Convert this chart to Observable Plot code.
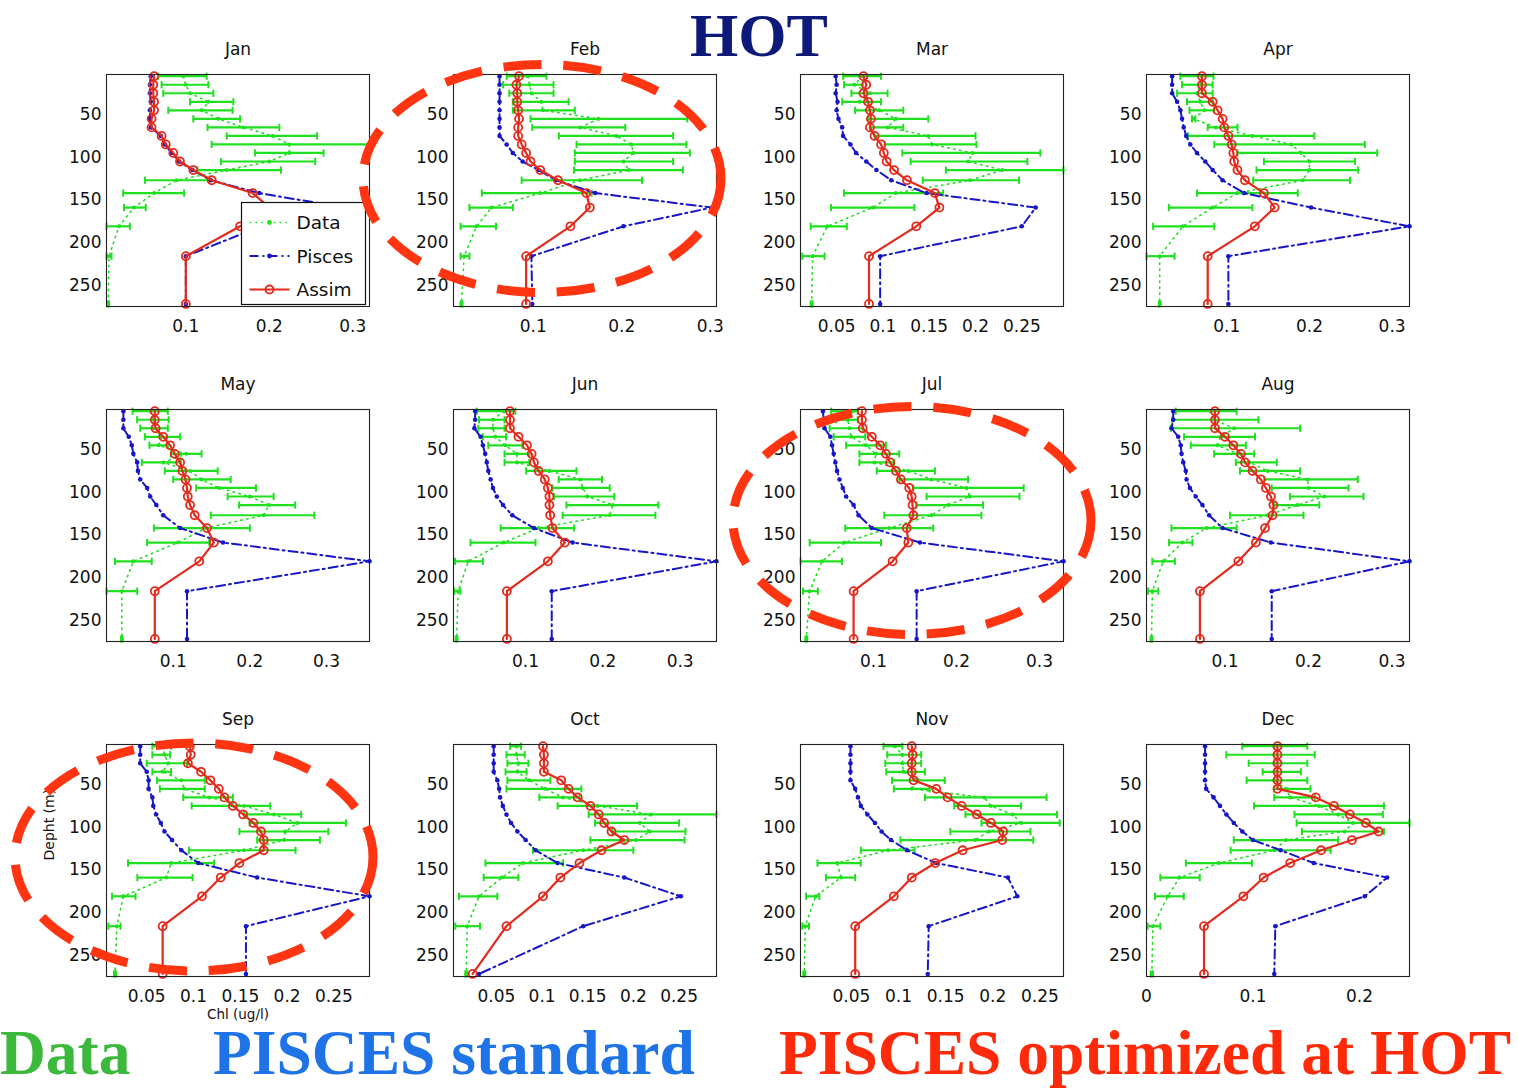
<!DOCTYPE html>
<html>
<head>
<meta charset="utf-8">
<script src="https://cdn.jsdelivr.net/npm/d3@7"></script>
<script src="https://cdn.jsdelivr.net/npm/@observablehq/plot@0.6"></script>
<style>
  html, body { margin: 0; padding: 0; background: #fff; }
  #root { position: relative; width: 1518px; height: 1088px; overflow: hidden; background: #fff; }
  .panel { position: absolute; }
  #overlay { position: absolute; left: 0; top: 0; pointer-events: none; }
</style>
</head>
<body>
<div id="root"></div>
<script>
// ---------------- data ----------------
const months = ["Jan","Feb","Mar","Apr","May","Jun","Jul","Aug","Sep","Oct","Nov","Dec"];
const depths = [5,15,25,35,45,55,65,75,85,95,105,115,127,142,159,181,216,272];
const depthTicks = [50,100,150,200,250];
const xDomains = [
  [0.005,0.32],[0.010,0.307],[0.011,0.295],[0.003,0.321],
  [0.013,0.356],[0.007,0.347],[0.012,0.329],[0.006,0.321],
  [0.007,0.288],[0.003,0.291],[-0.004,0.275],[0,0.247]
];
const xTicks = [
  [0.1,0.2,0.3],[0.1,0.2,0.3],[0.05,0.1,0.15,0.2,0.25],[0.1,0.2,0.3],
  [0.1,0.2,0.3],[0.1,0.2,0.3],[0.1,0.2,0.3],[0.1,0.2,0.3],
  [0.05,0.1,0.15,0.2,0.25],[0.05,0.1,0.15,0.2,0.25],[0.05,0.1,0.15,0.2,0.25],[0,0.1,0.2]
];
// observed chlorophyll (Data): mean, low and high end of the error bar
const dataMean = [
  [0.097,0.1,0.105,0.127,0.119,0.139,0.169,0.204,0.224,0.224,0.2,0.149,0.089,0.062,0.038,0.02,0.008,0.007],
  [0.094,0.096,0.098,0.109,0.111,0.174,0.153,0.194,0.211,0.213,0.202,0.208,0.153,0.108,0.053,0.036,0.022,0.019],
  [0.078,0.069,0.086,0.075,0.096,0.114,0.105,0.149,0.153,0.197,0.192,0.229,0.194,0.114,0.089,0.04,0.024,0.023],
  [0.07,0.068,0.064,0.068,0.073,0.06,0.087,0.131,0.178,0.19,0.2,0.2,0.192,0.113,0.083,0.047,0.019,0.019],
  [0.07,0.074,0.075,0.085,0.081,0.117,0.087,0.122,0.137,0.16,0.2,0.225,0.218,0.143,0.106,0.048,0.033,0.033],
  [0.072,0.058,0.058,0.061,0.074,0.089,0.089,0.131,0.171,0.174,0.18,0.213,0.209,0.117,0.072,0.026,0.013,0.011],
  [0.075,0.069,0.071,0.073,0.091,0.103,0.101,0.142,0.17,0.212,0.216,0.19,0.17,0.119,0.065,0.038,0.023,0.019],
  [0.083,0.087,0.111,0.095,0.091,0.115,0.129,0.151,0.199,0.2,0.219,0.187,0.151,0.078,0.049,0.026,0.013,0.012],
  [0.067,0.069,0.073,0.067,0.087,0.09,0.117,0.154,0.186,0.211,0.198,0.197,0.154,0.076,0.071,0.025,0.018,0.016],
  [0.072,0.072,0.074,0.073,0.086,0.103,0.123,0.161,0.219,0.207,0.218,0.203,0.145,0.079,0.056,0.031,0.018,0.017],
  [0.096,0.104,0.104,0.105,0.121,0.114,0.191,0.198,0.221,0.23,0.196,0.181,0.089,0.035,0.039,0.012,0.001,0.0],
  [0.12,0.12,0.12,0.121,0.12,0.131,0.135,0.162,0.18,0.194,0.186,0.131,0.12,0.068,0.031,0.02,0.006,0.005]
];
const dataLow = [
  [0.067,0.071,0.073,0.105,0.079,0.109,0.126,0.149,0.131,0.183,0.142,0.114,0.051,0.025,0.026,0.005,0.005,0.006],
  [0.07,0.066,0.073,0.077,0.077,0.097,0.099,0.129,0.149,0.147,0.147,0.146,0.087,0.042,0.028,0.018,0.018,0.018],
  [0.057,0.058,0.066,0.056,0.07,0.084,0.086,0.091,0.102,0.121,0.13,0.168,0.143,0.058,0.044,0.022,0.013,0.022],
  [0.044,0.046,0.04,0.052,0.055,0.058,0.077,0.053,0.085,0.113,0.145,0.136,0.132,0.064,0.03,0.011,0.003,0.018],
  [0.047,0.053,0.057,0.063,0.069,0.097,0.059,0.089,0.1,0.13,0.171,0.186,0.149,0.075,0.066,0.024,0.013,0.032],
  [0.037,0.04,0.039,0.045,0.052,0.073,0.073,0.101,0.143,0.135,0.137,0.153,0.148,0.068,0.029,0.009,0.008,0.01],
  [0.049,0.055,0.047,0.052,0.067,0.083,0.083,0.104,0.131,0.148,0.164,0.152,0.113,0.066,0.023,0.012,0.015,0.018],
  [0.041,0.037,0.035,0.051,0.059,0.087,0.113,0.118,0.147,0.156,0.178,0.159,0.106,0.036,0.033,0.013,0.008,0.011],
  [0.056,0.056,0.05,0.056,0.061,0.064,0.089,0.098,0.154,0.16,0.149,0.168,0.095,0.03,0.04,0.013,0.009,0.015],
  [0.065,0.061,0.062,0.06,0.062,0.061,0.097,0.117,0.151,0.158,0.177,0.153,0.09,0.038,0.036,0.009,0.005,0.016],
  [0.084,0.088,0.086,0.087,0.093,0.095,0.128,0.159,0.171,0.188,0.155,0.102,0.06,0.014,0.023,0.002,-0.002,-0.001],
  [0.09,0.075,0.096,0.109,0.094,0.12,0.12,0.101,0.139,0.141,0.146,0.082,0.079,0.037,0.013,0.008,0.001,0.004]
];
const dataHigh = [
  [0.125,0.127,0.133,0.157,0.156,0.165,0.212,0.257,0.32,0.265,0.255,0.214,0.128,0.098,0.052,0.033,0.011,0.008],
  [0.115,0.123,0.123,0.14,0.147,0.274,0.204,0.258,0.273,0.277,0.258,0.269,0.223,0.166,0.077,0.058,0.028,0.02],
  [0.098,0.078,0.105,0.098,0.122,0.149,0.122,0.2,0.201,0.27,0.256,0.295,0.247,0.165,0.134,0.061,0.037,0.024],
  [0.084,0.083,0.083,0.083,0.085,0.062,0.113,0.206,0.267,0.282,0.255,0.259,0.249,0.186,0.131,0.085,0.037,0.02],
  [0.093,0.094,0.093,0.109,0.093,0.137,0.11,0.158,0.175,0.208,0.231,0.259,0.284,0.2,0.147,0.072,0.053,0.034],
  [0.087,0.073,0.073,0.075,0.096,0.105,0.105,0.166,0.199,0.209,0.215,0.272,0.268,0.163,0.113,0.045,0.016,0.012],
  [0.081,0.081,0.087,0.09,0.115,0.131,0.125,0.174,0.214,0.281,0.276,0.232,0.23,0.172,0.109,0.062,0.033,0.02],
  [0.114,0.14,0.19,0.136,0.125,0.135,0.162,0.19,0.259,0.248,0.266,0.213,0.194,0.114,0.061,0.04,0.02,0.013],
  [0.076,0.075,0.093,0.076,0.112,0.112,0.142,0.182,0.215,0.263,0.244,0.235,0.209,0.122,0.099,0.038,0.022,0.017],
  [0.077,0.081,0.085,0.083,0.109,0.143,0.141,0.204,0.291,0.25,0.257,0.256,0.2,0.123,0.074,0.051,0.032,0.018],
  [0.104,0.124,0.124,0.128,0.149,0.133,0.257,0.23,0.268,0.271,0.24,0.243,0.117,0.06,0.054,0.016,0.005,0.001],
  [0.151,0.158,0.151,0.145,0.151,0.154,0.158,0.223,0.222,0.247,0.223,0.18,0.173,0.099,0.05,0.035,0.013,0.006]
];
// PISCES standard run
const pisces = [
  [0.058,0.057,0.057,0.058,0.057,0.057,0.058,0.07,0.075,0.083,0.092,0.108,0.13,0.188,0.29,0.19,0.1,0.1],
  [0.062,0.062,0.062,0.062,0.062,0.062,0.062,0.062,0.07,0.077,0.088,0.106,0.126,0.17,0.302,0.202,0.098,0.099],
  [0.049,0.05,0.049,0.051,0.05,0.052,0.056,0.057,0.065,0.071,0.082,0.093,0.109,0.147,0.265,0.25,0.097,0.097],
  [0.034,0.034,0.034,0.04,0.044,0.046,0.048,0.051,0.056,0.064,0.074,0.083,0.095,0.121,0.202,0.321,0.102,0.102],
  [0.035,0.035,0.035,0.042,0.046,0.048,0.053,0.054,0.057,0.066,0.07,0.078,0.087,0.109,0.165,0.356,0.118,0.118],
  [0.035,0.035,0.034,0.042,0.045,0.048,0.05,0.052,0.055,0.058,0.063,0.071,0.083,0.111,0.161,0.347,0.134,0.134],
  [0.039,0.04,0.041,0.048,0.05,0.052,0.054,0.056,0.059,0.063,0.067,0.076,0.082,0.098,0.156,0.329,0.152,0.152],
  [0.038,0.038,0.036,0.044,0.047,0.048,0.05,0.053,0.054,0.058,0.065,0.073,0.081,0.097,0.155,0.321,0.156,0.156],
  [0.043,0.043,0.043,0.05,0.052,0.052,0.056,0.057,0.06,0.065,0.069,0.077,0.087,0.105,0.168,0.288,0.156,0.156],
  [0.047,0.047,0.047,0.047,0.051,0.053,0.054,0.057,0.061,0.066,0.073,0.082,0.093,0.117,0.19,0.252,0.145,0.031],
  [0.049,0.049,0.049,0.049,0.049,0.054,0.057,0.06,0.067,0.075,0.082,0.092,0.109,0.14,0.216,0.226,0.132,0.131],
  [0.055,0.055,0.055,0.055,0.055,0.056,0.063,0.069,0.075,0.082,0.09,0.1,0.126,0.157,0.226,0.205,0.121,0.12]
];
// PISCES optimised (assimilation) run
const assim = [
  [0.062,0.061,0.061,0.062,0.062,0.059,0.059,0.071,0.076,0.085,0.093,0.109,0.131,0.18,0.2,0.165,0.1,0.1],
  [0.084,0.081,0.082,0.082,0.083,0.084,0.083,0.083,0.087,0.092,0.097,0.108,0.128,0.16,0.164,0.142,0.092,0.092],
  [0.079,0.082,0.079,0.084,0.086,0.087,0.086,0.091,0.098,0.101,0.104,0.112,0.126,0.156,0.161,0.136,0.085,0.085],
  [0.07,0.07,0.07,0.083,0.089,0.095,0.097,0.102,0.106,0.108,0.109,0.113,0.122,0.145,0.158,0.134,0.077,0.077],
  [0.076,0.076,0.077,0.087,0.096,0.102,0.109,0.112,0.116,0.118,0.119,0.122,0.128,0.144,0.153,0.134,0.076,0.076],
  [0.08,0.08,0.08,0.091,0.102,0.108,0.111,0.117,0.125,0.129,0.131,0.131,0.132,0.135,0.151,0.129,0.076,0.076],
  [0.086,0.086,0.087,0.098,0.108,0.115,0.12,0.127,0.133,0.143,0.146,0.147,0.148,0.14,0.142,0.123,0.076,0.076],
  [0.088,0.088,0.088,0.1,0.11,0.119,0.124,0.133,0.143,0.149,0.155,0.158,0.157,0.148,0.137,0.116,0.07,0.07],
  [0.096,0.097,0.094,0.108,0.118,0.127,0.133,0.142,0.153,0.164,0.172,0.175,0.175,0.149,0.129,0.109,0.067,0.067],
  [0.101,0.102,0.102,0.102,0.121,0.129,0.139,0.153,0.162,0.168,0.176,0.19,0.165,0.141,0.12,0.101,0.061,0.024],
  [0.114,0.115,0.114,0.114,0.116,0.14,0.152,0.167,0.183,0.198,0.211,0.21,0.168,0.139,0.114,0.095,0.054,0.054],
  [0.123,0.123,0.123,0.123,0.123,0.123,0.159,0.176,0.191,0.206,0.218,0.193,0.164,0.135,0.11,0.091,0.054,0.054]
];
const highlighted = ["Feb","Jul","Sep"];
const legendLabels = ["Data","Pisces","Assim"];
const footerLabels = ["Data","PISCES standard","PISCES optimized at HOT"];

// ---------------- styling ----------------
const GREEN = "#1fe01f", BLUE = "#1616c8", RED = "#e42a1c", HILITE = "#ff3511";
const FRAME_W = 263, FRAME_H = 232;
const ML = 70, MR = 10, MT = 40, MB = 55;
const colLeft = [105.5, 452.5, 799.5, 1146];
const rowTop = [73.5, 408.5, 744];
// highlight ellipse centre offsets from the panel centre (px)
const hiliteOffset = {Feb: [-42, -11], Jul: [-19, -4], Sep: [-43, -3]};

const vbar = { draw(ctx, size) { const r = Math.sqrt(size / Math.PI); ctx.moveTo(0, -r); ctx.lineTo(0, r); } };
const fmt = d => String(+d.toFixed(3));

const root = document.getElementById("root");

function panel(i) {
  const rows = depths.map((d, k) => ({
    depth: d, mean: dataMean[i][k], lo: dataLow[i][k], hi: dataHigh[i][k],
    pisces: pisces[i][k], assim: assim[i][k]
  }));
  const extra = [];
  if (months[i] === "Sep") {
    extra.push(Plot.text(["Depht (m)"], {frameAnchor: "left", dx: -57, rotate: -90, text: d => d, fontSize: 14, lineAnchor: "middle"}));
    extra.push(Plot.text(["Chl (ug/l)"], {frameAnchor: "bottom", dy: 38, text: d => d, fontSize: 13.5, lineAnchor: "middle"}));
  }
  return Plot.plot({
    width: ML + FRAME_W + MR, height: MT + FRAME_H + MB,
    marginLeft: ML, marginRight: MR, marginTop: MT, marginBottom: MB,
    style: {fontFamily: "DejaVu Sans, sans-serif", fontSize: "17px", background: "transparent", color: "#111", overflow: "visible"},
    x: {domain: xDomains[i], ticks: xTicks[i], tickFormat: fmt, tickSize: 0, tickPadding: 13, label: null},
    y: {domain: [3, 275], reverse: true, ticks: depthTicks, tickSize: 0, tickPadding: 5, label: null},
    marks: [
      Plot.ruleY(rows, {y: "depth", x1: "lo", x2: "hi", stroke: GREEN, strokeWidth: 2.2}),
      Plot.dot(rows, {x: "lo", y: "depth", symbol: vbar, r: 3.6, stroke: GREEN, strokeWidth: 2}),
      Plot.dot(rows, {x: "hi", y: "depth", symbol: vbar, r: 3.6, stroke: GREEN, strokeWidth: 2}),
      Plot.line(rows, {x: "mean", y: "depth", stroke: GREEN, strokeWidth: 1.6, strokeDasharray: "1.5,4.5"}),
      Plot.dot(rows, {x: "mean", y: "depth", r: 2, fill: GREEN}),
      Plot.line(rows, {x: "pisces", y: "depth", stroke: BLUE, strokeWidth: 2, strokeDasharray: "9,4,2,4"}),
      Plot.dot(rows, {x: "pisces", y: "depth", r: 2.3, fill: BLUE}),
      Plot.line(rows, {x: "assim", y: "depth", stroke: RED, strokeWidth: 2.2}),
      Plot.dot(rows, {x: "assim", y: "depth", r: 4, stroke: RED, strokeWidth: 1.8, fill: "none"}),
      Plot.frame({stroke: "#222", strokeWidth: 1.1}),
      Plot.text([months[i]], {frameAnchor: "top", dy: -25, lineAnchor: "middle", text: d => d, fontSize: 17}),
      ...extra
    ]
  });
}

months.forEach((m, i) => {
  const r = Math.floor(i / 4), c = i % 4;
  const div = document.createElement("div");
  div.className = "panel";
  div.style.left = (colLeft[c] - ML) + "px";
  div.style.top = (rowTop[r] - MT) + "px";
  div.appendChild(panel(i));
  root.appendChild(div);
});

// ---------------- overlay: title, legend, highlight ellipses, footer ----------------
const svg = d3.select(root).append("svg").attr("id", "overlay").attr("width", 1518).attr("height", 1088);

svg.append("text").attr("x", 759).attr("y", 56).attr("text-anchor", "middle")
  .attr("font-family", "Liberation Serif, Times New Roman, serif").attr("font-weight", "bold")
  .attr("font-size", 62).attr("fill", "#0d1a7a").text("HOT");

// legend inside Jan panel
const lg = svg.append("g").attr("transform", `translate(${colLeft[0] + FRAME_W - 127},${rowTop[0] + FRAME_H - 103})`);
lg.append("rect").attr("width", 124).attr("height", 102).attr("fill", "#fff").attr("stroke", "#111").attr("stroke-width", 1.2);
const legendStyles = [
  {stroke: GREEN, dash: "1.5,4.5", w: 1.6, mark: "dot", fill: GREEN},
  {stroke: BLUE, dash: "9,4,2,4", w: 2, mark: "dot", fill: BLUE},
  {stroke: RED, dash: null, w: 2.2, mark: "circle"}
];
legendLabels.forEach((lab, k) => {
  const y = 20 + k * 33.5;
  const s = legendStyles[k];
  lg.append("line").attr("x1", 8).attr("x2", 48).attr("y1", y).attr("y2", y)
    .attr("stroke", s.stroke).attr("stroke-width", s.w).attr("stroke-dasharray", s.dash);
  if (s.mark === "dot") lg.append("circle").attr("cx", 28).attr("cy", y).attr("r", 2.4).attr("fill", s.fill);
  else lg.append("circle").attr("cx", 28).attr("cy", y).attr("r", 4).attr("fill", "none").attr("stroke", RED).attr("stroke-width", 1.8);
  lg.append("text").attr("x", 55).attr("y", y).attr("dy", "0.36em")
    .attr("font-family", "DejaVu Sans, sans-serif").attr("font-size", 18.5).attr("fill", "#111").text(lab);
});

// red dashed ellipses around highlighted months
highlighted.forEach(m => {
  const i = months.indexOf(m);
  const r = Math.floor(i / 4), c = i % 4;
  const [ox, oy] = hiliteOffset[m];
  const cx = colLeft[c] + FRAME_W / 2 + ox, cy = rowTop[r] + FRAME_H / 2 + oy;
  svg.append("ellipse").attr("cx", cx).attr("cy", cy).attr("rx", 179).attr("ry", 114)
    .attr("fill", "none").attr("stroke", HILITE).attr("stroke-width", 9)
    .attr("stroke-dasharray", "38,22");
});

const footerColors = ["#3cb83c", "#1e73e6", "#ff2a0a"];
const footerX = [0, 213, 779];
footerLabels.forEach((t, k) => {
  svg.append("text").attr("x", footerX[k]).attr("y", 1073.5)
    .attr("font-family", "Liberation Serif, Times New Roman, serif").attr("font-weight", "bold")
    .attr("font-size", 63.5).attr("fill", footerColors[k]).text(t);
});
</script>
</body>
</html>
